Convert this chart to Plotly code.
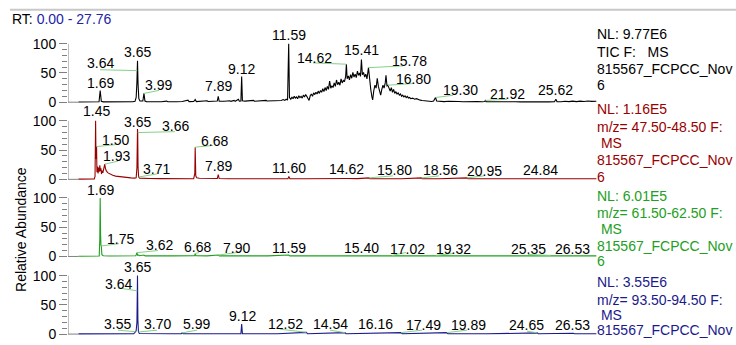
import numpy as np
import plotly.graph_objects as go

# ---------------- retention-time window (min) ----------------
RT_MIN, RT_MAX = 0.00, 27.76

# ---------------- chromatograms: (retention time, relative abundance %) ----------------
tic = [
    (0.55, 0.3), (0.9, 0.4), (1.2, 0.3), (1.5, 0.5), (1.63, 0.8), (1.69, 20), (1.75, 1.5), (1.85, 0.6),
    (2.2, 0.5), (2.6, 0.7), (3.0, 0.5), (3.4, 0.8), (3.52, 1.5), (3.58, 8), (3.62, 35), (3.64, 54),
    (3.65, 71), (3.68, 30), (3.72, 6), (3.78, 2), (3.86, 1.5), (3.93, 2), (3.99, 15), (4.04, 2),
    (4.12, 1), (4.5, 0.6), (4.9, 0.8), (5.18, 1.8), (5.24, 0.7), (5.7, 0.8), (6.0, 1.2), (6.3, 3.5),
    (6.36, 0.9), (6.6, 1.2), (6.68, 4.5), (6.74, 1.0), (7.0, 1.2), (7.3, 2.5), (7.36, 1.1), (7.6, 1.3),
    (7.84, 2), (7.89, 10), (7.94, 1.6), (8.2, 1.5), (8.5, 2.5), (8.56, 1.4), (8.72, 3), (8.78, 1.5),
    (8.95, 5), (9.0, 1.6), (9.08, 2), (9.12, 44), (9.16, 2.5), (9.3, 1.8), (9.55, 2.5), (9.6, 1.5),
    (9.74, 3), (9.8, 1.7), (10.0, 2.2), (10.2, 1.8), (10.4, 3), (10.45, 2), (10.7, 2.5), (10.85, 2),
    (11.0, 3.5), (11.05, 2.5), (11.2, 3), (11.3, 4.5), (11.38, 3), (11.46, 5), (11.53, 3.5),
    (11.59, 100), (11.63, 8),
    (11.70, 5), (11.76, 9), (11.82, 6), (11.88, 10), (11.94, 7), (12.00, 9), (12.06, 6), (12.12, 11),
    (12.18, 8), (12.24, 10), (12.30, 7), (12.36, 12), (12.42, 9), (12.48, 13), (12.54, 10), (12.60, 5),
    (12.66, 3), (12.72, 11), (12.78, 14), (12.84, 10), (12.90, 16), (12.96, 13), (13.02, 17), (13.08, 14),
    (13.14, 19), (13.20, 15), (13.26, 20), (13.32, 17), (13.38, 23), (13.44, 18), (13.50, 25), (13.56, 20),
    (13.62, 27), (13.68, 22), (13.74, 36), (13.80, 24), (13.86, 28), (13.92, 25), (13.98, 33), (14.04, 27),
    (14.10, 38), (14.16, 30), (14.22, 34), (14.28, 29), (14.34, 40), (14.40, 33), (14.46, 37), (14.52, 35),
    (14.58, 44), (14.62, 65), (14.66, 40), (14.72, 45), (14.78, 38), (14.84, 47), (14.90, 41), (14.96, 51),
    (15.02, 43), (15.08, 48), (15.14, 42), (15.20, 53), (15.26, 46), (15.32, 50), (15.36, 44), (15.41, 73),
    (15.46, 47), (15.52, 51), (15.58, 43), (15.64, 48), (15.70, 40), (15.78, 59), (15.84, 36), (15.90, 22),
    (15.96, 9), (16.00, 4), (16.06, 20), (16.12, 29), (16.18, 24), (16.24, 41), (16.30, 27), (16.36, 21),
    (16.42, 12), (16.48, 22), (16.54, 29), (16.60, 24), (16.66, 33), (16.70, 46), (16.75, 28), (16.80, 29),
    (16.86, 22), (16.92, 19), (16.98, 25), (17.04, 17), (17.10, 22), (17.16, 15), (17.22, 18), (17.28, 14),
    (17.34, 16), (17.40, 12), (17.46, 14), (17.52, 10), (17.58, 12), (17.64, 9), (17.70, 11), (17.76, 8),
    (17.82, 10), (17.88, 7), (17.94, 8), (18.00, 6), (18.10, 7), (18.20, 5), (18.30, 6), (18.40, 4),
    (18.50, 3.5), (18.60, 3), (18.70, 2.5), (18.80, 2), (18.90, 1.5), (19.00, 1.5), (19.10, 1.2),
    (19.20, 2), (19.30, 8), (19.36, 2), (19.50, 1.5), (19.75, 1.0), (20.00, 1.6), (20.25, 0.9),
    (20.50, 1.3), (20.75, 0.8), (21.00, 1.2), (21.25, 0.7), (21.50, 1.0), (21.75, 0.8), (21.88, 1.2),
    (21.92, 3), (21.96, 1.0), (22.25, 0.8), (22.50, 1.0), (22.75, 0.6), (23.00, 0.9), (23.25, 0.6),
    (23.50, 0.8), (23.75, 0.5), (24.00, 0.8), (24.25, 0.6), (24.50, 0.9), (24.75, 0.6), (25.00, 0.8),
    (25.25, 0.6), (25.55, 0.9), (25.62, 5), (25.68, 1.0), (25.90, 0.8), (26.10, 1.6), (26.30, 0.9),
    (26.50, 1.8), (26.70, 1.0), (26.90, 1.9), (27.10, 1.2), (27.30, 2.0), (27.50, 1.4), (27.76, 1.6),
]

mz48 = [
    (0.55, 0.4), (1.0, 0.5), (1.38, 0.8), (1.42, 5), (1.45, 100), (1.47, 35), (1.50, 56), (1.52, 12),
    (1.55, 22), (1.58, 10), (1.61, 20), (1.64, 13), (1.67, 24), (1.70, 14), (1.73, 19), (1.76, 9),
    (1.79, 15), (1.83, 11), (1.87, 18), (1.90, 21), (1.93, 26), (1.97, 18), (2.02, 14), (2.10, 11),
    (2.20, 9), (2.35, 7), (2.5, 5.5), (2.7, 4.5), (2.9, 3.5), (3.1, 3), (3.3, 2.5), (3.5, 2),
    (3.58, 2.5), (3.62, 20), (3.65, 86), (3.66, 80), (3.68, 20), (3.71, 4), (3.76, 2), (3.9, 1.6),
    (4.3, 1.3), (4.8, 1.2), (5.3, 1.1), (5.8, 1.0), (6.3, 1.0), (6.6, 1.1), (6.66, 10), (6.68, 55),
    (6.71, 6), (6.76, 2.5), (6.9, 1.8), (7.2, 1.4), (7.5, 1.2), (7.84, 1.3), (7.89, 8), (7.94, 1.3),
    (8.4, 1.0), (9.0, 1.0), (9.12, 2), (9.2, 1.0), (10.0, 1.0), (10.8, 1.0), (11.55, 1.1), (11.60, 5),
    (11.65, 1.1), (12.5, 1.1), (13.5, 1.2), (14.58, 1.3), (14.62, 2.5), (14.66, 1.3), (15.2, 1.2),
    (15.80, 2.5), (15.85, 1.2), (16.5, 1.1), (17.5, 1.0), (18.56, 2.5), (18.60, 1.0), (19.5, 1.0),
    (20.95, 2.5), (21.00, 1.0), (22.5, 1.0), (24.84, 2), (24.90, 1.0), (26.0, 1.0), (27.76, 1.0),
]

mz62 = [
    (0.55, 0.3), (1.0, 0.4), (1.5, 0.5), (1.64, 0.8), (1.67, 30), (1.69, 100), (1.71, 40), (1.73, 19),
    (1.75, 18), (1.78, 3), (1.85, 1.2), (2.2, 0.9), (2.8, 0.8), (3.4, 0.9), (3.55, 1.2), (3.58, 2.5),
    (3.62, 6.5), (3.66, 2), (3.71, 2.5), (3.76, 1.2), (3.99, 2.5), (4.05, 1.0), (4.6, 2), (4.65, 1.0),
    (5.5, 1.0), (6.3, 1.0), (6.65, 1.2), (6.68, 5), (6.72, 1.2), (7.3, 1.0), (7.90, 2.5), (7.95, 1.0),
    (9.0, 1.0), (9.12, 1.8), (9.2, 1.0), (10.5, 1.0), (11.59, 2.5), (11.65, 1.0), (13.0, 1.0),
    (14.5, 1.0), (15.40, 1.8), (15.45, 1.0), (16.5, 1.0), (17.02, 1.8), (17.10, 1.0), (18.5, 1.0),
    (19.32, 2), (19.40, 1.0), (21.0, 1.0), (23.0, 1.0), (25.35, 1.8), (25.40, 1.0), (26.53, 2),
    (26.60, 1.0), (27.76, 1.0),
]

mz94 = [
    (0.55, 0.3), (2.0, 0.3), (3.0, 0.4), (3.45, 0.5), (3.55, 4), (3.58, 6), (3.62, 20), (3.64, 74),
    (3.65, 100), (3.67, 25), (3.70, 3.5), (3.75, 1.0), (4.5, 0.5), (5.5, 0.5), (5.95, 0.8), (5.99, 2),
    (6.05, 0.6), (8.0, 0.5), (9.08, 0.6), (9.12, 17), (9.16, 0.6), (11.0, 0.5), (12.52, 3), (12.58, 0.6),
    (14.54, 2.5), (14.60, 0.6), (16.16, 1.5), (16.20, 0.6), (17.49, 2.5), (17.55, 0.6), (19.89, 2.5),
    (19.95, 0.6), (22.0, 0.5), (24.65, 2), (24.70, 0.5), (26.53, 1.5), (26.60, 0.5), (27.76, 0.5),
]

# ---------------- per-trace header text ----------------
headers = [
    ["NL: 9.77E6", "TIC F:\u00a0\u00a0\u00a0MS", "815567_FCPCC_Nov", "6"],
    ["NL: 1.16E5", "m/z= 47.50-48.50 F:", "\u00a0MS", "815567_FCPCC_Nov", "6"],
    ["NL: 6.01E5", "m/z= 61.50-62.50 F:", "\u00a0MS", "815567_FCPCC_Nov", "6"],
    ["NL: 3.55E6", "m/z= 93.50-94.50 F:", "\u00a0MS", "815567_FCPCC_Nov"],
]

# ---------------- labelled peaks (retention times) per trace ----------------
peak_labels = [
    [1.69, 3.64, 3.65, 3.99, 7.89, 9.12, 11.59, 14.62, 15.41, 15.78, 16.80, 19.30, 21.92, 25.62],
    [1.45, 1.50, 1.93, 3.65, 3.66, 3.71, 6.68, 7.89, 11.60, 14.62, 15.80, 18.56, 20.95, 24.84],
    [1.69, 1.75, 3.62, 6.68, 7.90, 11.59, 15.40, 17.02, 19.32, 25.35, 26.53],
    [3.65, 3.64, 3.55, 3.70, 5.99, 9.12, 12.52, 14.54, 16.16, 17.49, 19.89, 24.65, 26.53],
]

# ---------------- layout geometry (pixels) ----------------
W, H = 736, 345
X_LEFT, X_RIGHT = 68.0, 596.6
ZERO_PX = [104.0, 182.5, 261.0, 340.0]
PX_PER_PCT = 0.595
Y_RANGE = [-3, 118]
FONT = "Liberation Sans, Arial, sans-serif"

# label placement: (text centre x, text centre y, connector end or None)
label_place = [
    [(100, 84, None), (100, 64, (100, 71)), (137, 53, None), (158, 87, (159, 92)), (218, 88, None),
     (241, 70, None), (289, 36, None), (314, 59, (313, 64)), (361, 51, None), (409, 62, (403, 67)),
     (413, 80, (413, 85)), (460, 92, (453, 97)), (507, 96, (507, 101)), (555, 92, None)],
    [(96, 113, None), (115, 142, (117, 147)), (116, 159, (118, 164)), (137, 124, None),
     (175, 128, (175, 134)), (156, 172, (157, 177)), (214, 143, (213, 148)), (218, 169, None),
     (289, 171, None), (346, 172, None), (394, 173, (393, 179)), (440, 173, (439, 179)),
     (484, 174, (484, 179)), (540, 173, None)],
    [(100, 193, None), (120, 243, (119, 248)), (159, 249, (158, 255)), (198, 251, (199, 257)),
     (236, 252, (237, 257)), (289, 252, None), (361, 252, None), (407, 253, (406, 257)),
     (453, 253, (453, 258)), (528, 253, (528, 259)), (572, 253, None)],
    [(137, 272, None), (118, 289, (118, 293)), (117, 330, (118, 336)), (157, 330, (157, 336)),
     (196, 330, (197, 336)), (242, 322, None), (285, 330, (280, 335)), (330, 330, (330, 336)),
     (375, 330, None), (423, 331, (422, 336)), (468, 331, (467, 336)), (526, 331, (527, 337)),
     (572, 331, None)],
]
header_y = [
    [35, 53, 70, 87],
    [111, 129, 146, 163, 180],
    [199, 217, 233, 250, 266],
    [287, 305, 321, 336],
]

trace_colors = ["#000000", "#990000", "#1f9e1f", "#1a1a8c"]
text_colors = ["#000000", "#990000", "#22a022", "#1a1a8c"]
CONNECTOR = "#86d186"
AXIS_GREY = "#808080"


def px_to_rt(x):
    return (x - X_LEFT) / (X_RIGHT - X_LEFT) * (RT_MAX - RT_MIN) + RT_MIN


def px_to_pct(y, k):
    return (ZERO_PX[k] - y) / PX_PER_PCT


def px_paper_x(x):
    return x / W


def px_paper_y(y):
    return 1 - y / H


fig = go.Figure()
series = [tic, mz48, mz62, mz94]
layout_axes = {}
shapes = []
annotations = []

for k, data in enumerate(series):
    rt = [p[0] for p in data]
    ab = [p[1] for p in data]
    yname = "y" if k == 0 else f"y{k + 1}"
    axname = "yaxis" if k == 0 else f"yaxis{k + 1}"

    fig.add_trace(go.Scatter(
        x=rt, y=ab, mode="lines", xaxis="x", yaxis=yname,
        line=dict(color=trace_colors[k], width=1.1), hoverinfo="skip", showlegend=False,
    ))

    bottom_px = ZERO_PX[k] - Y_RANGE[0] * PX_PER_PCT
    top_px = ZERO_PX[k] - Y_RANGE[1] * PX_PER_PCT
    layout_axes[axname] = dict(
        domain=[px_paper_y(bottom_px), px_paper_y(top_px)],
        range=Y_RANGE, anchor="x", showgrid=False, zeroline=False, showline=False,
        tickmode="array", tickvals=[0, 50, 100], ticktext=["0", "50", "100"],
        ticks="outside", ticklen=8, tickwidth=1, tickcolor=AXIS_GREY,
        tickfont=dict(family=FONT, size=14, color="#000000"),
        minor=dict(tickmode="array", tickvals=[10, 20, 30, 40, 60, 70, 80, 90],
                   ticks="outside", ticklen=5, tickwidth=1, tickcolor=AXIS_GREY, showgrid=False),
        fixedrange=True,
    )

    # vertical axis line spanning 0-100 and the grey stub of the baseline
    shapes.append(dict(type="line", xref="x", yref=yname, x0=RT_MIN, x1=RT_MIN, y0=0, y1=100,
                       line=dict(color=AXIS_GREY, width=1)))
    shapes.append(dict(type="line", xref="x", yref=yname, x0=RT_MIN, x1=rt[0], y0=0, y1=0,
                       line=dict(color=AXIS_GREY, width=1), layer="below"))

    # peak labels with connector lines
    lookup = dict(zip(rt, ab))
    for t_lab, (cx, cy, end) in zip(peak_labels[k], label_place[k]):
        h = lookup.get(t_lab, float(np.interp(t_lab, rt, ab)))
        if end is not None:
            shapes.append(dict(type="line", xref="x", yref=yname,
                               x0=t_lab, y0=h, x1=px_to_rt(end[0]), y1=px_to_pct(end[1], k),
                               line=dict(color=CONNECTOR, width=1)))
        annotations.append(dict(
            text=f"{t_lab:.2f}", xref="paper", yref="paper",
            x=px_paper_x(cx), y=px_paper_y(cy), xanchor="center", yanchor="middle",
            showarrow=False, font=dict(family=FONT, size=14, color="#000000"),
        ))

    # trace header on the right
    for line_text, ly in zip(headers[k], header_y[k]):
        annotations.append(dict(
            text=line_text, xref="paper", yref="paper",
            x=px_paper_x(595), y=px_paper_y(ly), xanchor="left", yanchor="middle",
            showarrow=False, font=dict(family=FONT, size=14, color=text_colors[k]),
        ))

# time-range caption and axis title
annotations.append(dict(
    text="RT: <span style='color:#2323a6'>0.00 - 27.76</span>", xref="paper", yref="paper",
    x=px_paper_x(10), y=px_paper_y(19), xanchor="left", yanchor="middle", showarrow=False,
    font=dict(family=FONT, size=14, color="#000000"),
))
annotations.append(dict(
    text="Relative Abundance", xref="paper", yref="paper", textangle=-90,
    x=px_paper_x(21), y=px_paper_y(234), xanchor="center", yanchor="middle", showarrow=False,
    font=dict(family=FONT, size=14, color="#000000"),
))

# frame rule across the top
shapes.append(dict(type="line", xref="paper", yref="paper",
                   x0=px_paper_x(10), x1=1, y0=px_paper_y(10), y1=px_paper_y(10),
                   line=dict(color="#c8c8c8", width=2)))

fig.update_layout(
    width=W, height=H, autosize=False,
    margin=dict(l=0, r=0, t=0, b=0, pad=0),
    paper_bgcolor="white", plot_bgcolor="white",
    xaxis=dict(domain=[px_paper_x(X_LEFT), px_paper_x(X_RIGHT)], range=[RT_MIN, RT_MAX],
               visible=False, fixedrange=True),
    shapes=shapes, annotations=annotations, showlegend=False,
    **layout_axes,
)

fig.write_html("out.html", config={"displayModeBar": False})
